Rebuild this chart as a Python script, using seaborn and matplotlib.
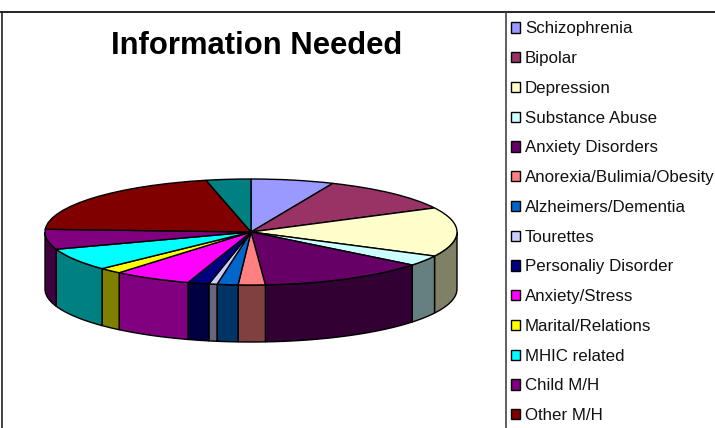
import matplotlib
matplotlib.use('Agg')
import numpy as np
import pandas as pd
import matplotlib.pyplot as plt
import seaborn as sns
from matplotlib.lines import Line2D
from matplotlib.patches import Patch

# legend names (the 15th slice has no entry visible, the legend is cut off)
categories = ['Schizophrenia', 'Bipolar', 'Depression', 'Substance Abuse', 'Anxiety Disorders',
              'Anorexia/Bulimia/Obesity', 'Alzheimers/Dementia', 'Tourettes', 'Personaliy Disorder',
              'Anxiety/Stress', 'Marital/Relations', 'MHIC related', 'Child M/H', 'Other M/H']
# slice shares in degrees
values = [23.4, 39.6, 54.0, 11.5, 47.5, 7.6, 5.9, 2.3, 6.0, 22.0, 6.5, 24.7, 22.0, 74.4, 12.6]
colors = ['#9999FF', '#993366', '#FFFFCC', '#CCFFFF', '#660066', '#FF8080', '#0066CC', '#CCCCFF',
          '#000080', '#FF00FF', '#FFFF00', '#00FFFF', '#800080', '#800000', '#008080']

W, H = 715, 428
CX, CY = 251, 232   # pie centre in pixels
RX, RY = 206, 53    # ellipse radii in pixels
DEPTH = 57 / RY     # wall height in data units

sns.set_theme(style='white')
plt.rcParams['font.family'] = ['Liberation Sans', 'DejaVu Sans']

palette = sns.color_palette(colors)
df = pd.DataFrame({'value': values})
df['end'] = df['value'].cumsum() / df['value'].sum() * 360
df['start'] = df['end'] - df['value'] / df['value'].sum() * 360

fig = plt.figure(figsize=(W / 100, H / 100), dpi=100, facecolor='white')
ax = fig.add_axes([0, 0, 1, 1])

# top face
wedges, _ = ax.pie(df['value'], colors=palette, startangle=90, counterclock=False,
                   wedgeprops={'edgecolor': 'black', 'linewidth': 1.0}, normalize=True)
ax.set_aspect('auto')
ax.set_xlim(-CX / RX, (W - CX) / RX)
ax.set_ylim(-(H - CY) / RY, CY / RY)

# walls, half the brightness of each slice, only on the front half
for row, col in zip(df.itertuples(), palette):
    a, b = max(row.start, 90), min(row.end, 270)
    if b <= a:
        continue
    t = np.radians(np.linspace(a, b, 60))
    x, y = np.sin(t), np.cos(t)
    ax.fill(np.r_[x, x[::-1]], np.r_[y, y[::-1] - DEPTH], facecolor=np.array(col) * 0.5,
            edgecolor='black', linewidth=1.0, zorder=0.5)

ax.text(257 / W, 1 - 46 / H, 'Information Needed', transform=ax.transAxes, ha='center',
        va='center', fontsize=22.3, fontweight='bold', color='black')

# chart frame
fig.add_artist(Line2D([0, 1], [1 - 12 / H, 1 - 12 / H], color='black', lw=1.2))
fig.add_artist(Line2D([1.5 / W, 1.5 / W], [0, 1 - 12 / H], color='#222222', lw=1.2))
fig.add_artist(Line2D([505.5 / W, 505.5 / W], [0, 1 - 12 / H], color='#444444', lw=1.2))

handles = [Patch(facecolor=c, edgecolor='black', linewidth=1.0) for c in palette[:len(categories)]]
ax.legend(handles, categories, loc='upper left', bbox_to_anchor=(511 / W, 1 - 21.5 / H),
          bbox_transform=fig.transFigure, frameon=False, fontsize=12.2, borderpad=0, borderaxespad=0,
          handlelength=0.55, handleheight=0.55, handletextpad=0.28, labelspacing=0.87,
          labelcolor='#111111')

fig.savefig('out.png', dpi=100)
